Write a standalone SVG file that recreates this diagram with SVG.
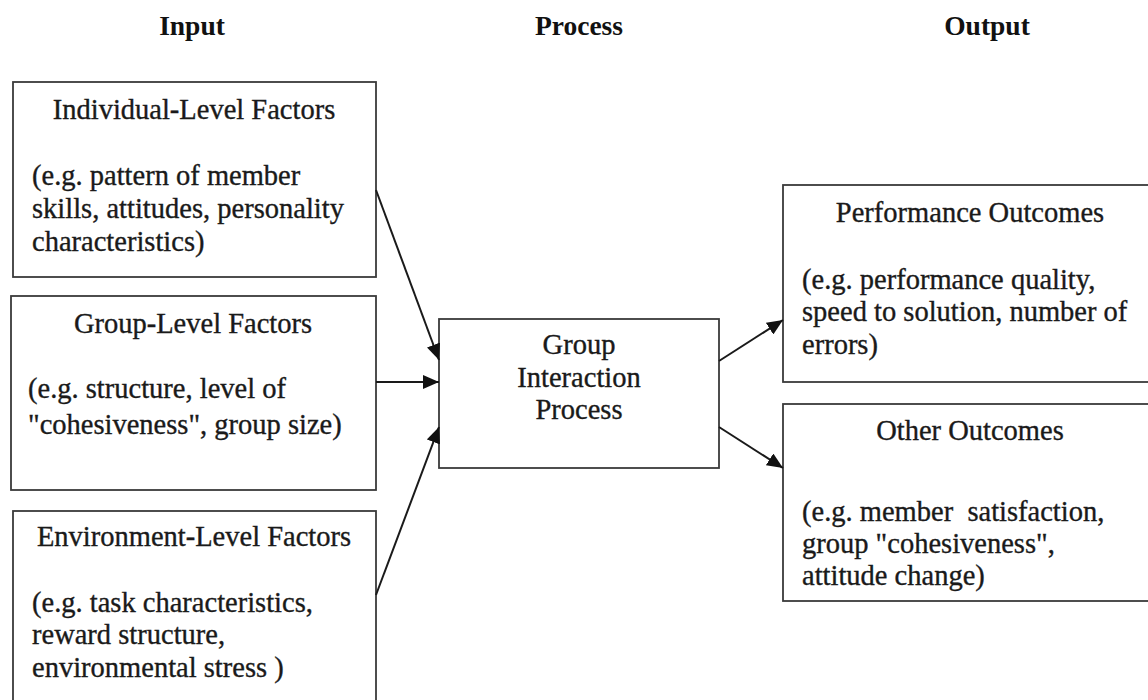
<svg xmlns="http://www.w3.org/2000/svg" width="1148" height="700" viewBox="0 0 1148 700">
  <style>
    .box { fill: #ffffff; stroke: #3a3a3a; stroke-width: 1.8; }
    .t { font-family: "Liberation Serif", "Times New Roman", serif; font-size: 28.5px; fill: #1a1a1a; stroke: #1a1a1a; stroke-width: 0.35; }
    .c { text-anchor: middle; }
    .h { font-family: "Liberation Serif", "Times New Roman", serif; font-size: 27.5px; font-weight: bold; fill: #111; text-anchor: middle; }
    .conn { stroke: #1a1a1a; stroke-width: 2; fill: none; marker-end: url(#arrow); }
  </style>
  <defs>
    <marker id="arrow" markerUnits="userSpaceOnUse" markerWidth="18" markerHeight="14" refX="16" refY="7" orient="auto">
      <path d="M0,0 L16,7 L0,14 Z" fill="#111"/>
    </marker>
  </defs>
  <rect width="1148" height="700" fill="#ffffff"/>

  <g id="headers">
    <text class="h" x="192" y="35">Input</text>
    <text class="h" x="579" y="35">Process</text>
    <text class="h" x="987" y="35">Output</text>
  </g>

  <g id="individual">
    <rect class="box" x="13" y="82" width="363" height="195"/>
    <text class="t c" x="194" y="119">Individual-Level Factors</text>
    <text class="t" x="32" y="185">(e.g. pattern of member</text>
    <text class="t" x="32" y="218">skills, attitudes, personality</text>
    <text class="t" x="32" y="251">characteristics)</text>
  </g>

  <g id="group">
    <rect class="box" x="11" y="296" width="365" height="194"/>
    <text class="t c" x="193" y="333">Group-Level Factors</text>
    <text class="t" x="28" y="398">(e.g. structure, level of</text>
    <text class="t" x="28" y="434">"cohesiveness", group size)</text>
  </g>

  <g id="environment">
    <rect class="box" x="13" y="511" width="363" height="200"/>
    <text class="t c" x="194" y="546">Environment-Level Factors</text>
    <text class="t" x="32" y="612">(e.g. task characteristics,</text>
    <text class="t" x="32" y="644">reward structure,</text>
    <text class="t" x="32" y="677">environmental stress )</text>
  </g>

  <g id="process">
    <rect class="box" x="439" y="319" width="280" height="149"/>
    <text class="t c" x="579" y="354">Group</text>
    <text class="t c" x="579" y="387">Interaction</text>
    <text class="t c" x="579" y="419">Process</text>
  </g>

  <g id="performance">
    <rect class="box" x="783" y="185" width="380" height="197"/>
    <text class="t c" x="970" y="222">Performance Outcomes</text>
    <text class="t" x="802" y="289">(e.g. performance quality,</text>
    <text class="t" x="802" y="321">speed to solution, number of</text>
    <text class="t" x="802" y="354">errors)</text>
  </g>

  <g id="other">
    <rect class="box" x="783" y="404" width="380" height="197"/>
    <text class="t c" x="970" y="440">Other Outcomes</text>
    <text class="t" x="802" y="521" xml:space="preserve">(e.g. member  satisfaction,</text>
    <text class="t" x="802" y="553">group "cohesiveness",</text>
    <text class="t" x="802" y="585">attitude change)</text>
  </g>

  <g id="connectors">
    <line class="conn" x1="376" y1="190" x2="439" y2="360"/>
    <line class="conn" x1="376" y1="382" x2="439" y2="382"/>
    <line class="conn" x1="376" y1="595" x2="439" y2="427"/>
    <line class="conn" x1="719" y1="361" x2="783" y2="320"/>
    <line class="conn" x1="719" y1="427" x2="783" y2="468"/>
  </g>
</svg>
